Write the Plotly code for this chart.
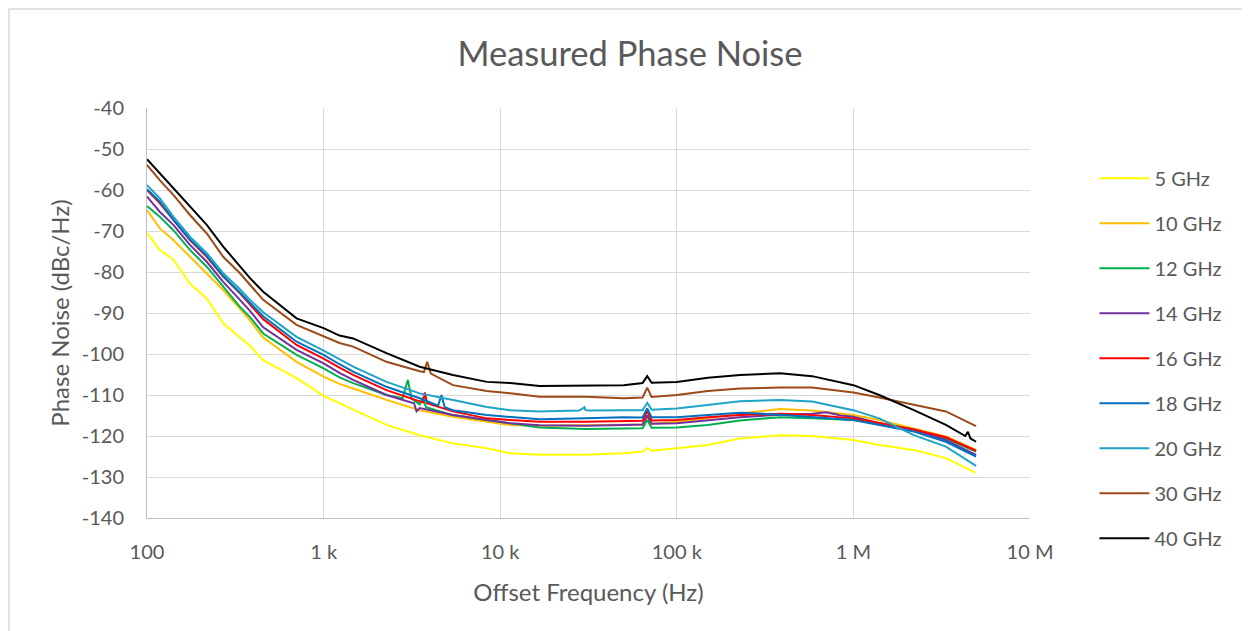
import plotly.graph_objects as go

# Offset frequencies (Hz) common to all series
freq = [100, 118, 141, 175, 218, 270, 336, 383, 455, 703, 1000, 1230, 1470, 2270, 3500,
        5400, 8400, 11400, 16700, 30400, 50000, 100000, 150000, 228000, 385000, 583000,
        1000000, 1400000, 2200000, 3340000, 4950000]

names = ["5 GHz", "10 GHz", "12 GHz", "14 GHz", "16 GHz", "18 GHz", "20 GHz", "30 GHz", "40 GHz"]
colors = ["#FFFF00", "#FFC000", "#00B050", "#7030A0", "#FF0000", "#0070C0", "#1FA3C6", "#9C4A17", "#000000"]

pn_5 = [-70.5, -74.6, -77.0, -82.8, -86.5, -92.5, -96.0, -98.0, -101.5, -105.9, -110.2, -112.0, -113.7,
        -117.3, -119.8, -121.8, -123.0, -124.2, -124.6, -124.6, -124.2, -123.0, -122.2, -120.6, -119.8,
        -120.0, -121.0, -122.2, -123.4, -125.4, -129.0]
pn_10 = [-64.9, -69.3, -72.2, -76.3, -80.3, -84.4, -89.0, -91.8, -96.0, -101.9, -105.5, -107.3, -108.4,
         -111.2, -113.7, -115.3, -116.5, -117.3, -117.5, -117.4, -117.3, -116.5, -115.7, -114.5, -113.4,
         -113.8, -114.9, -116.1, -118.1, -120.1, -123.4]
pn_12 = [-63.9, -66.5, -69.8, -74.6, -78.7, -83.6, -88.5, -91.0, -95.0, -100.2, -103.5, -105.7, -107.1,
         -110.0, -112.3, -114.9, -116.1, -116.9, -117.9, -118.3, -118.1, -117.9, -117.3, -116.2, -115.4,
         -115.7, -116.1, -116.9, -118.4, -120.6, -123.8]
pn_14 = [-61.6, -65.3, -68.5, -73.4, -77.5, -82.4, -86.8, -89.5, -93.5, -99.0, -102.3, -104.6, -106.3,
         -110.0, -113.2, -114.9, -116.1, -116.9, -117.4, -117.5, -117.3, -116.9, -116.2, -115.4, -114.8,
         -114.6, -115.3, -116.9, -118.5, -121.0, -124.6]
pn_16 = [-60.0, -63.2, -67.3, -72.2, -76.3, -81.1, -85.2, -88.0, -91.5, -97.8, -101.1, -103.3, -105.1,
         -108.8, -111.6, -114.0, -115.7, -116.1, -116.5, -116.5, -116.3, -116.1, -115.4, -114.9, -114.6,
         -114.9, -115.7, -116.8, -118.4, -120.3, -123.6]
pn_18 = [-59.8, -62.8, -67.2, -72.0, -76.0, -81.0, -85.0, -87.5, -90.8, -97.0, -100.2, -102.5, -104.3,
         -108.0, -110.8, -113.7, -114.9, -115.3, -115.9, -115.7, -115.4, -115.4, -114.9, -114.3, -114.8,
         -115.4, -116.1, -117.3, -118.9, -121.4, -125.0]
pn_20 = [-58.8, -62.0, -66.5, -71.4, -75.4, -80.3, -84.2, -86.8, -89.8, -95.8, -99.2, -101.3, -103.1,
         -106.8, -109.6, -111.2, -112.9, -113.7, -114.0, -113.7, -113.7, -113.3, -112.4, -111.5, -111.2,
         -111.6, -113.7, -115.7, -119.8, -122.6, -127.3]
pn_30 = [-53.9, -57.6, -61.2, -66.1, -70.6, -76.3, -80.3, -83.2, -86.8, -92.9, -95.6, -97.3, -98.2,
         -101.9, -104.2, -107.6, -109.0, -109.6, -110.4, -110.4, -110.8, -110.0, -109.0, -108.4, -108.2,
         -108.2, -109.4, -110.6, -112.4, -114.0, -117.6]
pn_40 = [-52.5, -55.9, -59.6, -64.1, -68.5, -73.8, -78.7, -81.5, -84.8, -91.3, -93.7, -95.5, -96.2,
         -99.8, -103.1, -105.1, -106.8, -107.1, -107.8, -107.6, -107.6, -106.8, -105.8, -105.1, -104.7,
         -105.4, -107.6, -110.0, -113.7, -117.3, -121.4]

# Spurs: (frequency list, value list) per series
spur_f = {
    "5 GHz": [64000, 68000, 72000],
    "10 GHz": [64000, 68000, 72000],
    "12 GHz": [2800, 3000, 3150, 3650, 3800, 64000, 68000, 72000],
    "14 GHz": [3250, 3360, 64000, 68000, 72000, 700000, 850000],
    "16 GHz": [3650, 3750, 3850, 64000, 68000, 72000],
    "18 GHz": [4450, 4650, 4850, 64000, 68000, 72000],
    "20 GHz": [28000, 30000, 32000, 64000, 68000, 72000],
    "30 GHz": [3700, 3860, 4050, 64000, 68000, 72000],
    "40 GHz": [64000, 68000, 72000, 4300000, 4450000, 4600000],
}
spur_v = {
    "5 GHz": [-123.8, -123.0, -123.6],
    "10 GHz": [-117.2, -115.5, -117.0],
    "12 GHz": [-110.8, -106.3, -110.9, -110.6, -113.0, -118.1, -116.1, -118.0],
    "14 GHz": [-112.0, -114.0, -117.2, -115.0, -117.0, -114.2, -115.0],
    "16 GHz": [-111.8, -109.4, -112.0, -116.3, -114.0, -116.2],
    "18 GHz": [-112.6, -110.0, -113.0, -115.5, -113.3, -115.4],
    "20 GHz": [-113.8, -113.0, -113.8, -113.7, -111.9, -113.6],
    "30 GHz": [-104.4, -101.9, -104.8, -110.6, -108.2, -110.5],
    "40 GHz": [-107.1, -105.4, -107.0, -120.0, -119.0, -120.6],
}

series = [pn_5, pn_10, pn_12, pn_14, pn_16, pn_18, pn_20, pn_30, pn_40]

x_tick_vals = [100, 1000, 10000, 100000, 1000000, 10000000]
x_tick_text = ["100", "1 k", "10 k", "100 k", "1 M", "10 M"]
y_tick_vals = [-140, -130, -120, -110, -100, -90, -80, -70, -60, -50, -40]
y_tick_text = ["-140", "-130", "-120", "-110", "-100", "-90", "-80", "-70", "-60", "-50", "-40"]

FONT = "Lato"
GREY = "#595959"

fig = go.Figure()
for name, col, vals in zip(names, colors, series):
    pts = list(zip(freq, vals)) + list(zip(spur_f[name], spur_v[name]))
    pts.sort(key=lambda p: p[0])
    fig.add_trace(go.Scatter(
        x=[p[0] for p in pts], y=[p[1] for p in pts], mode="lines", name=name,
        legendgroup=name, line=dict(color=col, width=2)))

fig.update_layout(
    width=1242, height=623,
    margin=dict(l=139, r=220, t=100, b=113),
    paper_bgcolor="white", plot_bgcolor="white",
    font=dict(family=FONT, color=GREY, size=20),
    title=dict(text="Measured Phase Noise", x=0.5008, xref="container", xanchor="center",
               y=0.926, yref="container", yanchor="middle",
               font=dict(family=FONT, size=34.5, color=GREY)),
    xaxis=dict(type="log", range=[2, 7], tickvals=x_tick_vals, ticktext=x_tick_text,
               showgrid=True, gridcolor="#D9D9D9", gridwidth=1,
               showline=True, linecolor="#BFBFBF", linewidth=1, mirror=False,
               ticks="", ticklabelstandoff=16, zeroline=False,
               tickfont=dict(family=FONT, size=20, color=GREY),
               title=dict(text="Offset Frequency (Hz)", standoff=22,
                          font=dict(family=FONT, size=24, color=GREY))),
    yaxis=dict(range=[-140, -40], tickvals=y_tick_vals, ticktext=y_tick_text,
               showgrid=True, gridcolor="#D9D9D9", gridwidth=1,
               showline=True, linecolor="#BFBFBF", linewidth=1,
               ticks="", ticklabelstandoff=18, zeroline=False,
               tickfont=dict(family=FONT, size=20, color=GREY),
               title=dict(text="Phase Noise (dBc/Hz)", standoff=5,
                          font=dict(family=FONT, size=24, color=GREY))),
    legend=dict(x=1.073, y=0.876, xanchor="left", yanchor="top",
                traceorder="grouped", tracegroupgap=16, itemwidth=50,
                bgcolor="rgba(0,0,0,0)", font=dict(family=FONT, size=20, color=GREY)),
    shapes=[dict(type="rect", xref="paper", yref="paper",
                 x0=-0.1563, x1=1.27, y0=-0.3, y1=1.2415,
                 line=dict(color="#D9D9D9", width=1.5), layer="below")],
)

fig.write_html("out.html")
